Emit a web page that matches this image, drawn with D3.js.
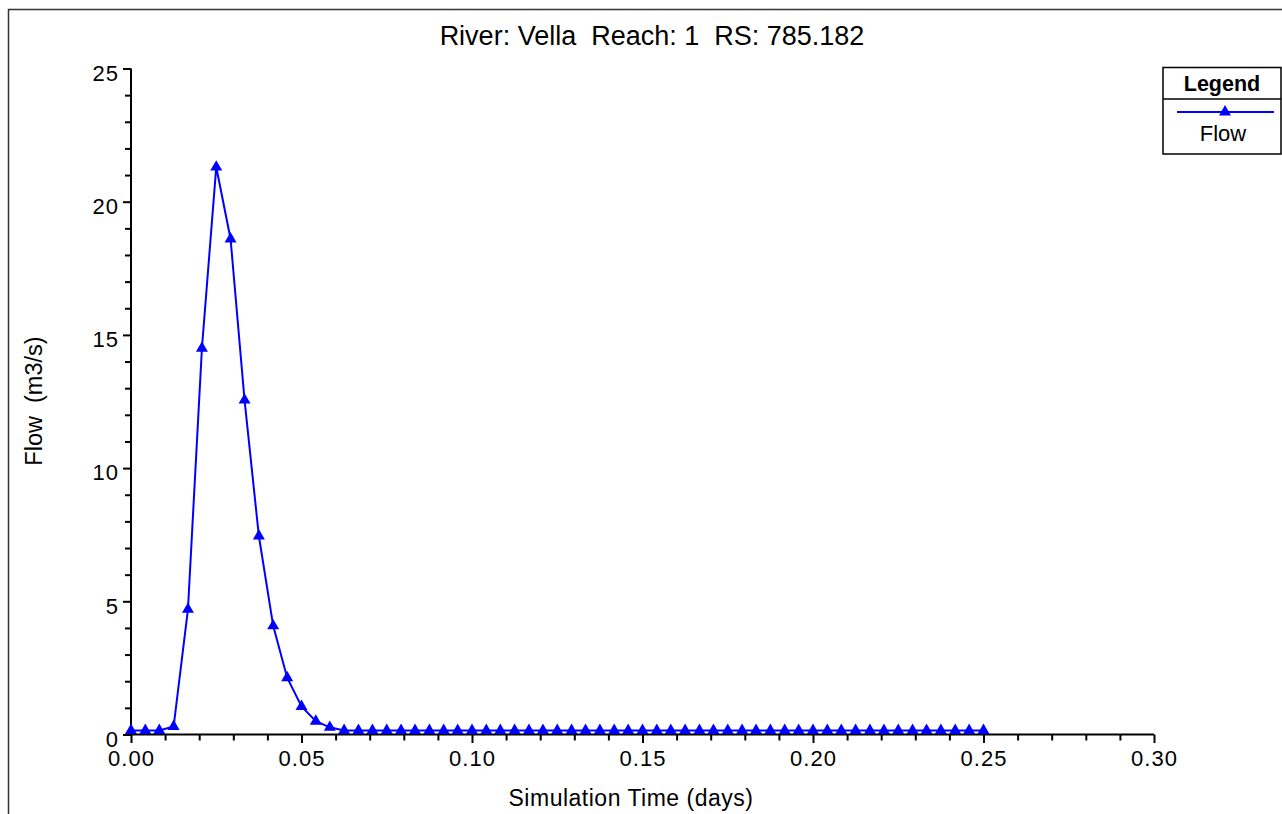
<!DOCTYPE html>
<html>
<head>
<meta charset="utf-8">
<script src="https://cdn.jsdelivr.net/npm/d3@7"></script>
<style>
  html, body { margin: 0; padding: 0; background: #fff; overflow: hidden; }
  svg text { font-family: Arial, "Liberation Sans", sans-serif; fill: #000; white-space: pre; }
</style>
</head>
<body>
<svg id="chart" width="1282" height="814"></svg>
<script>
const chartTitle = "River: Vella  Reach: 1  RS: 785.182";
const xLabel = "Simulation Time (days)";
const yLabel = "Flow  (m3/s)";
const seriesName = "Flow";

const timeDays = [0, 0.0042, 0.0083, 0.0125, 0.0167, 0.0208, 0.025, 0.0292, 0.0333, 0.0375, 0.0417, 0.0458, 0.05,
  0.0542, 0.0583, 0.0625, 0.0667, 0.0708, 0.075, 0.0792, 0.0833, 0.0875, 0.0917, 0.0958, 0.1,
  0.1042, 0.1083, 0.1125, 0.1167, 0.1208, 0.125, 0.1292, 0.1333, 0.1375, 0.1417, 0.1458, 0.15,
  0.1542, 0.1583, 0.1625, 0.1667, 0.1708, 0.175, 0.1792, 0.1833, 0.1875, 0.1917, 0.1958, 0.2,
  0.2042, 0.2083, 0.2125, 0.2167, 0.2208, 0.225, 0.2292, 0.2333, 0.2375, 0.2417, 0.2458, 0.25];

const flow = [0.15, 0.15, 0.15, 0.3, 4.7, 14.5, 21.3, 18.6, 12.55, 7.45, 4.08, 2.13, 1.05,
  0.5, 0.27, 0.15, 0.15, 0.15, 0.15, 0.15, 0.15, 0.15, 0.15, 0.15, 0.15,
  0.15, 0.15, 0.15, 0.15, 0.15, 0.15, 0.15, 0.15, 0.15, 0.15, 0.15, 0.15,
  0.15, 0.15, 0.15, 0.15, 0.15, 0.15, 0.15, 0.15, 0.15, 0.15, 0.15, 0.15,
  0.15, 0.15, 0.15, 0.15, 0.15, 0.15, 0.15, 0.15, 0.15, 0.15, 0.15, 0.15];

const xMajorTicks = [0, 0.05, 0.10, 0.15, 0.20, 0.25, 0.30];
const xMinorTicks = [0.01, 0.02, 0.03, 0.04, 0.06, 0.07, 0.08, 0.09, 0.11, 0.12, 0.13, 0.14,
  0.16, 0.17, 0.18, 0.19, 0.21, 0.22, 0.23, 0.24, 0.26, 0.27, 0.28, 0.29];
const yMajorTicks = [0, 5, 10, 15, 20, 25];
const yMinorTicks = [1, 2, 3, 4, 6, 7, 8, 9, 11, 12, 13, 14, 16, 17, 18, 19, 21, 22, 23, 24];

const svg = d3.select("#chart");
const plot = { left: 131, right: 1154, top: 68.5, bottom: 734.5 };
const color = "#0000ff";

const x = d3.scaleLinear().domain([0, 0.30]).range([plot.left, plot.right]);
const y = d3.scaleLinear().domain([0, 25]).range([plot.bottom, plot.top]);

// outer frame
svg.append("rect").attr("x", 8.5).attr("y", 9.5).attr("width", 1400).attr("height", 1000)
  .attr("fill", "none").attr("stroke", "#333").attr("stroke-width", 1.5);

// title
svg.append("text").attr("x", 652).attr("y", 45).attr("text-anchor", "middle")
  .style("font-size", "27px").text(chartTitle);

// x axis
const xAxisMajor = d3.axisBottom(x).tickValues(xMajorTicks).tickSize(8.5).tickPadding(7)
  .tickFormat(d3.format(".2f"));
const gx = svg.append("g").attr("transform", `translate(0,${plot.bottom})`).call(xAxisMajor);
gx.select(".domain").attr("stroke", "#000").attr("stroke-width", 2)
  .attr("d", `M${plot.left},0H${plot.right}`);
gx.selectAll(".tick line").attr("stroke", "#000").attr("stroke-width", 2);
gx.selectAll(".tick text").style("font-size", "22px").style("letter-spacing", "1px").attr("font-family", null);
const gxm = svg.append("g").attr("transform", `translate(0,${plot.bottom})`)
  .call(d3.axisBottom(x).tickValues(xMinorTicks).tickSize(6).tickFormat(""));
gxm.select(".domain").remove();
gxm.selectAll(".tick line").attr("stroke", "#000").attr("stroke-width", 2);

// y axis
const gy = svg.append("g").attr("transform", `translate(${plot.left},0)`)
  .call(d3.axisLeft(y).tickValues(yMajorTicks).tickSize(8).tickPadding(4).tickFormat(d3.format("d")));
gy.select(".domain").attr("stroke", "#000").attr("stroke-width", 2)
  .attr("d", `M0,${plot.top}V${plot.bottom}`);
gy.selectAll(".tick line").attr("stroke", "#000").attr("stroke-width", 2);
gy.selectAll(".tick text").style("font-size", "22px").style("letter-spacing", "1px").attr("font-family", null)
  .attr("dy", "0.72em").attr("y", -4);
const gym = svg.append("g").attr("transform", `translate(${plot.left},0)`)
  .call(d3.axisLeft(y).tickValues(yMinorTicks).tickSize(6).tickFormat(""));
gym.select(".domain").remove();
gym.selectAll(".tick line").attr("stroke", "#000").attr("stroke-width", 2);

// axis labels
svg.append("text").attr("x", 631).attr("y", 806).attr("text-anchor", "middle")
  .style("font-size", "23px").style("letter-spacing", "0.5px").text(xLabel);
svg.append("text").attr("transform", `translate(42,401) rotate(-90)`).attr("text-anchor", "middle")
  .style("font-size", "23.5px").text(yLabel);

// series
const pts = timeDays.map((t, i) => ({ t: t, q: flow[i] }));
svg.append("path").datum(pts)
  .attr("fill", "none").attr("stroke", color).attr("stroke-width", 2)
  .attr("d", d3.line().x(d => x(d.t)).y(d => y(d.q)));

const tri = d3.symbol().type(d3.symbolTriangle).size(62);
svg.append("g").selectAll("path").data(pts).join("path")
  .attr("transform", d => `translate(${x(d.t)},${y(d.q)})`)
  .attr("d", tri).attr("fill", color);

// legend
const lg = svg.append("g");
lg.append("rect").attr("x", 1163).attr("y", 67.5).attr("width", 118).attr("height", 86.5)
  .attr("fill", "#fff").attr("stroke", "#000").attr("stroke-width", 1.5);
lg.append("line").attr("x1", 1163).attr("x2", 1281).attr("y1", 99).attr("y2", 99)
  .attr("stroke", "#000").attr("stroke-width", 1.5);
lg.append("text").attr("x", 1222).attr("y", 91).attr("text-anchor", "middle")
  .style("font-size", "21.5px").style("font-weight", "bold").text("Legend");
lg.append("line").attr("x1", 1177).attr("x2", 1274).attr("y1", 112).attr("y2", 112)
  .attr("stroke", color).attr("stroke-width", 2);
lg.append("path").attr("transform", "translate(1225,112)").attr("d", tri).attr("fill", color);
lg.append("text").attr("x", 1223).attr("y", 141).attr("text-anchor", "middle")
  .style("font-size", "22px").text(seriesName);
</script>
</body>
</html>
